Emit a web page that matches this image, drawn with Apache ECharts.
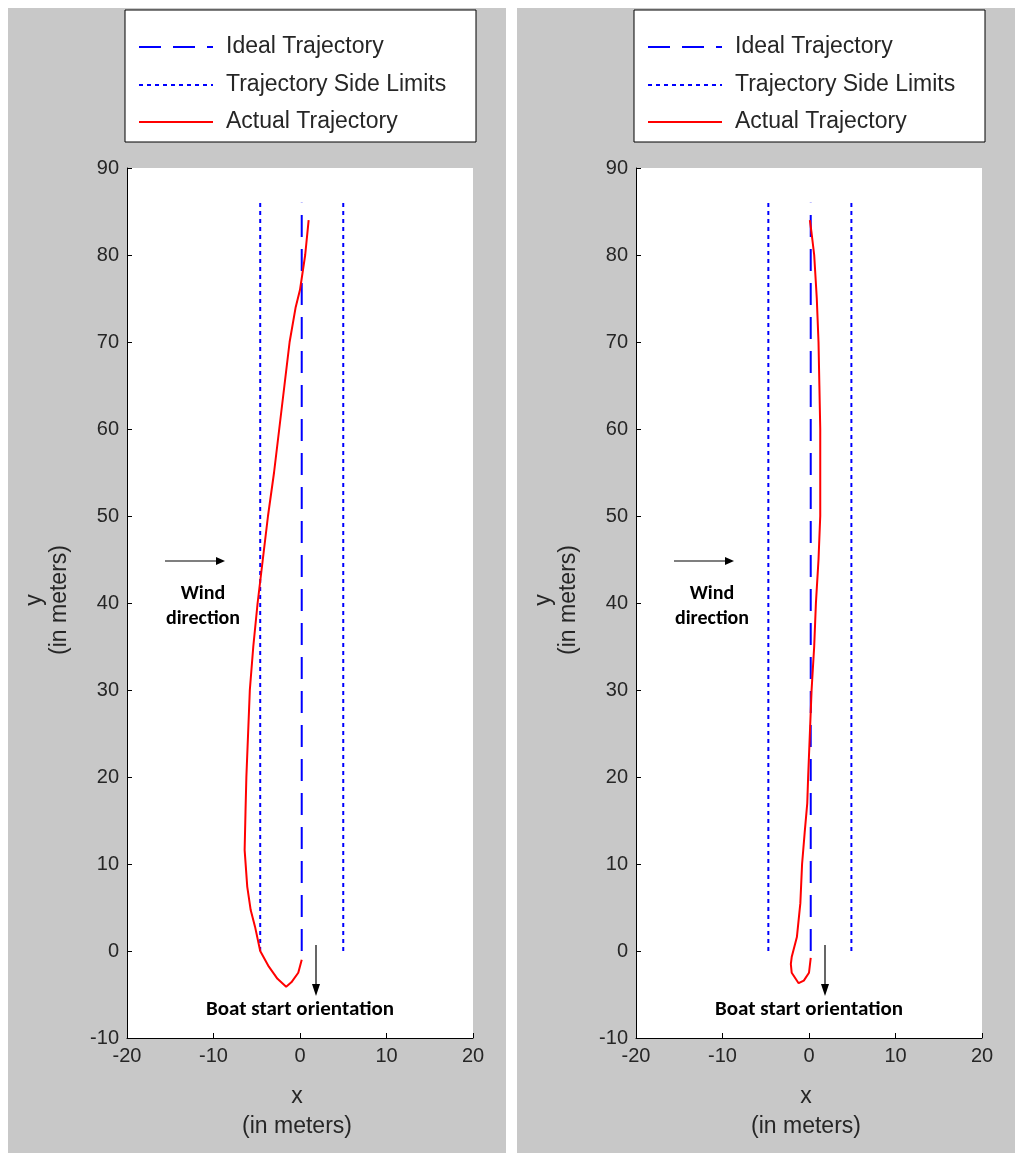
<!DOCTYPE html><html><head><meta charset="utf-8"><script src="https://cdn.jsdelivr.net/npm/echarts@6/dist/echarts.min.js"></script>
<style>html,body{margin:0;padding:0;background:#fff}#c{width:1024px;height:1161px}</style></head><body><div id="c"></div><script>
const xTicks=[-20,-10,0,10,20];
const yTicks=[-10,0,10,20,30,40,50,60,70,80,90];
const legendNames=['Ideal Trajectory','Trajectory Side Limits','Actual Trajectory'];
const idealLeft=[[0.2,0],[0.2,86]];
const limitsLeft=[-4.6,5.0];
const actualLeft=[[0.2,-1],[-0.2,-2.5],[-1.0,-3.6],[-1.6,-4.1],[-2.6,-3.2],[-3.6,-1.8],[-4.6,0],[-5.2,2.8],[-5.7,4.7],[-6.1,7.4],[-6.4,11.6],[-6.3,16],[-6.2,20],[-6.0,25],[-5.8,30],[-5.4,35],[-4.9,40],[-4.3,45],[-3.7,50],[-3.0,55],[-2.4,60],[-1.8,65],[-1.2,70],[-0.5,74],[0.0,76],[0.6,80],[1.0,84]];
const idealRight=[[0.2,0],[0.2,86]];
const limitsRight=[-4.7,4.9];
const actualRight=[[0.2,-0.8],[0.0,-2.5],[-0.6,-3.4],[-1.2,-3.7],[-2.0,-2.5],[-2.1,-1.5],[-2.0,-0.7],[-1.4,1.6],[-1.0,5.5],[-0.8,10],[-0.5,13.6],[-0.2,17],[-0.1,20],[0.1,25],[0.3,30],[0.6,35],[0.8,40],[1.1,45],[1.3,50],[1.3,55],[1.3,60],[1.2,65],[1.1,70],[0.9,75],[0.6,80],[0.3,82.5],[0.1,84]];
const tick={fontFamily:'Arial, Liberation Sans',fontSize:20,color:'#262626'};
function axes(i){return{
 x:{type:'value',gridIndex:i,min:-20,max:20,interval:10,axisLine:{onZero:false,lineStyle:{color:'#000'}},axisTick:{inside:true,length:5},splitLine:{show:false},axisLabel:Object.assign({margin:8},tick)},
 y:{type:'value',gridIndex:i,min:-10,max:90,interval:10,axisLine:{onZero:false,lineStyle:{color:'#000'}},axisTick:{inside:true,length:5},splitLine:{show:false},axisLabel:Object.assign({margin:8},tick)}};}
const a0=axes(0),a1=axes(1);
function ser(i,ideal,lim,act){return[
 {type:'line',xAxisIndex:i,yAxisIndex:i,data:ideal,symbol:'none',lineStyle:{color:'#0000ff',width:2,type:[22,12]},z:3},
 {type:'line',xAxisIndex:i,yAxisIndex:i,data:[[lim[0],0],[lim[0],86]],symbol:'none',lineStyle:{color:'#0000ff',width:2,type:[4,4]}},
 {type:'line',xAxisIndex:i,yAxisIndex:i,data:[[lim[1],0],[lim[1],86]],symbol:'none',lineStyle:{color:'#0000ff',width:2,type:[4,4]}},
 {type:'line',xAxisIndex:i,yAxisIndex:i,data:act,symbol:'none',lineStyle:{color:'#ff0000',width:2},z:4}];}
function panel(ox){const txt={fontFamily:'Arial, Liberation Sans',fontSize:23,fill:'#262626'};
 const lab={fontFamily:'Arial, Liberation Sans',fontSize:23,fill:'#262626',align:'center',verticalAlign:'middle'};
 const lx=ox;return[
 {type:'rect',shape:{x:ox-119,y:8,width:498,height:1145},style:{fill:'#c8c8c8'},z:-10},
 {type:'rect',shape:{x:ox,y:168,width:346,height:870},style:{fill:'#fff'},z:-9},
 {type:'rect',shape:{x:lx-2,y:10,width:351,height:132},style:{fill:'#fff',stroke:'#000',lineWidth:1},z:10},
 {type:'line',shape:{x1:lx+12,y1:47,x2:lx+86,y2:47},style:{stroke:'#0000ff',lineWidth:2,lineDash:[22,12]},z:11},
 {type:'line',shape:{x1:lx+12,y1:85,x2:lx+86,y2:85},style:{stroke:'#0000ff',lineWidth:2,lineDash:[4,4]},z:11},
 {type:'line',shape:{x1:lx+12,y1:122,x2:lx+86,y2:122},style:{stroke:'#ff0000',lineWidth:2},z:11},
 {type:'text',x:lx+99,y:47,style:Object.assign({text:legendNames[0],verticalAlign:'middle'},txt),z:11},
 {type:'text',x:lx+99,y:85,style:Object.assign({text:legendNames[1],verticalAlign:'middle'},txt),z:11},
 {type:'text',x:lx+99,y:122,style:Object.assign({text:legendNames[2],verticalAlign:'middle'},txt),z:11},
 {type:'line',shape:{x1:ox+38,y1:561,x2:ox+92,y2:561},style:{stroke:'#000',lineWidth:1.2},z:11},
 {type:'polygon',shape:{points:[[ox+98,561],[ox+89,557],[ox+89,565]]},style:{fill:'#000'},z:11},
 {type:'text',x:ox+76,y:606,style:{text:'Wind\ndirection',align:'center',verticalAlign:'middle',fontFamily:'Carlito, Lato, sans-serif',fontWeight:'bold',fontSize:20,lineHeight:25,fill:'#000'},z:11},
 {type:'line',shape:{x1:ox+189,y1:945,x2:ox+189,y2:985},style:{stroke:'#000',lineWidth:1.2},z:11},
 {type:'polygon',shape:{points:[[ox+189,996],[ox+185,984],[ox+193,984]]},style:{fill:'#000'},z:11},
 {type:'text',x:ox+173,y:1010,style:{text:'Boat start orientation',align:'center',verticalAlign:'middle',fontFamily:'Carlito, Lato, sans-serif',fontWeight:'bold',fontSize:21,fill:'#000'},z:11},
 {type:'text',x:ox+170,y:1097,style:Object.assign({text:'x'},lab)},
 {type:'text',x:ox+170,y:1127,style:Object.assign({text:'(in meters)'},lab)},
 {type:'text',x:ox-92,y:600,rotation:Math.PI/2,style:Object.assign({text:'y'},lab)},
 {type:'text',x:ox-67,y:600,rotation:Math.PI/2,style:Object.assign({text:'(in meters)'},lab)}];}
const chart=echarts.init(document.getElementById('c'));
chart.setOption({animation:false,backgroundColor:'#fff',
 grid:[{left:127,top:168,width:346,height:870},{left:636,top:168,width:346,height:870}],
 xAxis:[a0.x,a1.x],yAxis:[a0.y,a1.y],
 series:[...ser(0,idealLeft,limitsLeft,actualLeft),...ser(1,idealRight,limitsRight,actualRight)],
 graphic:[...panel(127),...panel(636)]});
</script></body></html>
